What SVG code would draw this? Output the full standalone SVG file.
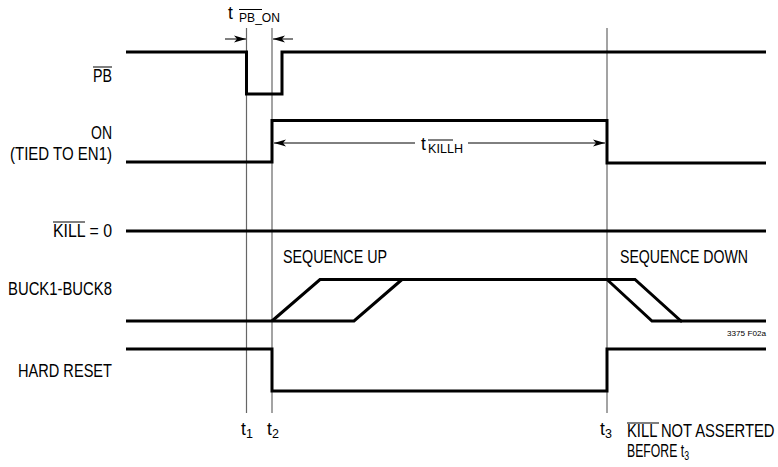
<svg xmlns="http://www.w3.org/2000/svg" width="778" height="467" viewBox="0 0 778 467">
<style>
text{font-family:"Liberation Sans",Arial,sans-serif;font-size:17.5px;fill:#000}
.sub{font-size:12.5px}
.small{font-size:8px}
.sig{fill:none;stroke:#000;stroke-width:3;stroke-linejoin:miter;stroke-linecap:butt}
.guide{stroke:#666;stroke-width:1.2;fill:none}
.arr{stroke:#000;stroke-width:1;fill:none}
.ov{stroke:#000;stroke-width:1}
</style>
<defs>
<marker id="ah" markerUnits="userSpaceOnUse" markerWidth="13" markerHeight="8" refX="12" refY="4" orient="auto">
<path d="M0,0.5 L12,4 L0,7.5 L3,4 z" fill="#000"/>
</marker>
</defs>
<rect width="778" height="467" fill="#fff"/>

<g id="guides">
<line class="guide" x1="246.5" y1="28" x2="246.5" y2="413"/>
<line class="guide" x1="272" y1="28" x2="272" y2="413"/>
<line class="guide" x1="607" y1="28" x2="607" y2="413"/>
</g>

<g id="pb">
<text x="93" y="82" textLength="19" lengthAdjust="spacingAndGlyphs">PB</text>
<line class="ov" x1="93" y1="67" x2="112" y2="67"/>
<polyline class="sig" points="126,52 246.5,52 246.5,94 282,94 282,52 766,52"/>
</g>

<g id="on">
<text x="91" y="139" textLength="21" lengthAdjust="spacingAndGlyphs">ON</text>
<text x="10" y="160" textLength="102" lengthAdjust="spacingAndGlyphs">(TIED TO EN1)</text>
<polyline class="sig" points="126,162 272,162 272,120.5 607,120.5 607,163 766,163"/>
</g>

<g id="kill">
<text x="53" y="237" textLength="59" lengthAdjust="spacingAndGlyphs">KILL = 0</text>
<line class="ov" x1="53" y1="222" x2="85" y2="222"/>
<line class="sig" x1="126" y1="231" x2="766" y2="231"/>
</g>

<g id="buck">
<text x="8" y="295" textLength="104" lengthAdjust="spacingAndGlyphs">BUCK1-BUCK8</text>
<text x="283" y="263" textLength="104" lengthAdjust="spacingAndGlyphs">SEQUENCE UP</text>
<text x="620" y="263" textLength="128" lengthAdjust="spacingAndGlyphs">SEQUENCE DOWN</text>
<polyline class="sig" points="126,321 354,321 402,279.5"/>
<polyline class="sig" points="272,321 320,279.5 635,279.5 681,321 766,321"/>
<polyline class="sig" points="607,279.5 652,321 682,321"/>
<text class="small" x="727" y="336" textLength="39" lengthAdjust="spacingAndGlyphs">3375 F02a</text>
</g>

<g id="hardreset">
<text x="18" y="377" textLength="94" lengthAdjust="spacingAndGlyphs">HARD RESET</text>
<polyline class="sig" points="126,349 272,349 272,391 607,391 607,349 766,349"/>
</g>

<g id="connectors">
<line class="arr" x1="225" y1="39" x2="246" y2="39" marker-end="url(#ah)"/>
<line class="arr" x1="293" y1="39" x2="273" y2="39" marker-end="url(#ah)"/>
<line class="arr" x1="415" y1="143" x2="274" y2="143" marker-end="url(#ah)"/>
<line class="arr" x1="468" y1="143" x2="605" y2="143" marker-end="url(#ah)"/>
</g>

<g id="labels">
<text x="228" y="19">t</text>
<text class="sub" x="239" y="22" textLength="41" lengthAdjust="spacingAndGlyphs">PB_ON</text>
<line class="ov" x1="239" y1="9.5" x2="262" y2="9.5"/>
<text x="421" y="150">t</text>
<text class="sub" x="428" y="153" textLength="35" lengthAdjust="spacingAndGlyphs">KILLH</text>
<line class="ov" x1="428" y1="140" x2="453" y2="140"/>
<text x="241" y="435">t<tspan class="sub" dy="3">1</tspan></text>
<text x="267" y="435">t<tspan class="sub" dy="3">2</tspan></text>
<text x="600" y="435">t<tspan class="sub" dy="3">3</tspan></text>
<text transform="translate(627,437) scale(0.845,1)" x="0" y="0">KILL NOT ASSERTED</text>
<line class="ov" x1="627" y1="423" x2="659" y2="423"/>
<text transform="translate(627,457) scale(0.7,1)" x="0" y="0">BEFORE t<tspan class="sub" dy="3">3</tspan></text>
</g>
</svg>
